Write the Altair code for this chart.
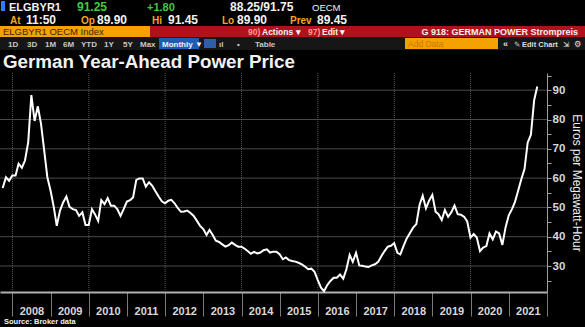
import altair as alt
import pandas as pd

# Monthly closes (month-end), Sep 2007 .. Sep 2021, EUR/MWh
values = [
    56.6, 60.3, 59.1,
    60.9, 60.9, 64.9, 63.5, 66.0, 72.3, 88.3, 79.5, 84.5, 78.6, 69.4, 60.3,
    55.7, 50.0, 43.7, 48.9, 51.7, 53.7, 50.2, 49.4, 49.1, 47.1, 48.3, 44.0,
    44.0, 49.4, 47.7, 45.4, 52.5, 51.1, 53.2, 50.6, 50.6, 49.4, 47.1, 49.4,
    52.0, 52.5, 53.4, 59.4, 59.9, 59.9, 57.1, 58.6, 57.4, 55.5, 53.7, 52.1,
    51.4, 52.3, 52.6, 51.4, 49.8, 48.5, 48.6, 48.9, 48.1, 47.1, 45.4, 43.7,
    42.6, 40.6, 42.3, 40.6, 38.6, 38.2, 37.4, 36.6, 37.1, 38.0, 37.2, 36.6,
    36.6, 35.9, 35.1, 34.2, 34.8, 34.3, 34.6, 35.4, 35.7, 34.6, 34.9, 34.9,
    34.0, 32.3, 32.9, 32.0, 31.7, 31.5, 31.1, 30.6, 29.8, 28.9, 29.1, 28.0,
    25.2, 22.6, 21.4, 23.5, 24.9, 26.0, 26.0, 27.1, 25.7, 28.9, 33.8, 31.4,
    34.5, 30.2, 30.1, 29.8, 29.7, 30.2, 30.6, 31.4, 33.4, 35.1, 36.6, 36.9,
    37.8, 34.5, 34.0, 36.9, 39.4, 41.3, 43.1, 44.3, 50.9, 54.0, 49.7, 52.3,
    54.3, 48.5, 47.7, 45.7, 49.1, 46.8, 48.3, 50.6, 47.7, 47.5, 46.8, 45.2,
    39.7, 40.9, 39.7, 35.1, 36.3, 36.8, 41.1, 39.1, 41.8, 41.1, 37.2, 43.1,
    47.3, 49.4, 51.8, 55.7, 59.6, 63.1, 72.1, 74.8, 86.6, 91.25,
]
month_ends = list(pd.date_range("2007-10-01", periods=len(values), freq="MS") - pd.Timedelta(days=1))
df = pd.DataFrame({"date": month_ends, "price": values})

y_grid = [30, 40, 50, 60, 70, 80, 90]
x_grid_years = [2008, 2010, 2012, 2014, 2016, 2018, 2020]
year_ticks = list(range(2008, 2023))
y_ticks = list(range(25, 96, 5))

TOP = 73
W, H = 547, 219
FONT = "Liberation Sans"
WHITE = "#f2f2f2"
GREEN = "#3dcc3d"
ORANGE = "#f5a623"

x_scale = alt.Scale(domain=[alt.DateTime(year=2007, month=9, date=4),
                            alt.DateTime(year=2022, month=1, date=1)], nice=False)
y_scale = alt.Scale(domain=[21.13, 95.87], nice=False, zero=False)

x_axis = alt.Axis(
    values=[alt.DateTime(year=y, month=1, date=1) for y in year_ticks],
    labelExpr="year(datum.value) < 2022 ? timeFormat(datum.value, '%Y') : ''",
    labelOffset=19, labelAlign="center", labelBaseline="top", labelPadding=-11,
    labelFlush=False, labelOverlap=False,
    labelFont=FONT, labelFontSize=11, labelFontWeight="bold", labelColor="#d8d8d8",
    tickSize=24, tickColor="#7a7a7a", tickWidth=1,
    domainColor="#b0b0b0", domainWidth=2, grid=False, title=None,
)
y_axis = alt.Axis(
    orient="right", values=y_ticks,
    labelExpr="datum.value % 10 === 0 ? datum.label : ''",
    tickSize=4, tickColor="#a0a0a0", domainColor="#a0a0a0", domainWidth=1,
    labelFont=FONT, labelFontSize=11.5, labelFontWeight="bold", labelColor="#d8d8d8",
    labelPadding=1, grid=False,
    title="Euros per Megawatt-Hour", titleFont=FONT, titleFontSize=12,
    titleFontWeight="normal", titleColor="#eeeeee", titlePadding=5,
)

hgrid = alt.Chart(pd.DataFrame({"v": y_grid})).mark_rule(color="#4a4a4a", strokeWidth=1).encode(
    y=alt.Y("v:Q", scale=y_scale, axis=y_axis))
vgrid = alt.Chart(pd.DataFrame({"d": [pd.Timestamp(f"{y}-01-01") for y in x_grid_years]})).mark_rule(
    color="#5a5a5a", strokeWidth=1, strokeDash=[1, 1]).encode(
    x=alt.X("d:T", scale=x_scale, axis=x_axis))
line = alt.Chart(df).mark_line(color="white", strokeWidth=2).encode(
    x=alt.X("date:T", scale=x_scale, axis=x_axis),
    y=alt.Y("price:Q", scale=y_scale, axis=y_axis),
)

one = pd.DataFrame({"k": [0]})


def label(s, x, y, color, size, weight="bold", align="left", font=FONT):
    return alt.Chart(one).mark_text(
        text=s, align=align, baseline="alphabetic", font=font, fontSize=size,
        fontWeight=weight, color=color,
    ).encode(x=alt.value(x), y=alt.value(y - TOP))


def box(x0, y0, x1, y1, color):
    return alt.Chart(one).mark_rect(color=color).encode(
        x=alt.value(x0), x2=alt.value(x1), y=alt.value(y0 - TOP), y2=alt.value(y1 - TOP))


deco = [
    # row 1
    box(1, 1, 5, 11, "#2a7fff"),
    label("ELGBYR1", 9, 11, WHITE, 11),
    label("91.25", 77, 11, GREEN, 12),
    label("+1.80", 147, 11, GREEN, 11),
    label("88.25/91.75", 230, 11, WHITE, 12),
    label("OECM", 312, 11, WHITE, 9.5, "normal"),
    # row 2
    label("At", 10, 24, ORANGE, 10), label("11:50", 26, 24, WHITE, 12),
    label("Op", 81, 24, ORANGE, 10), label("89.90", 97, 24, WHITE, 12),
    label("Hi", 152, 24, ORANGE, 10), label("91.45", 168, 24, WHITE, 12),
    label("Lo", 222, 24, ORANGE, 10), label("89.90", 237, 24, WHITE, 12),
    label("Prev", 290, 24, ORANGE, 10), label("89.45", 317, 24, WHITE, 12),
    # row 3
    box(0, 26, 150, 37, "#f5a100"),
    box(150, 26, 585, 37, "#b0121b"),
    label("ELGBYR1 OECM Index", 3, 35, "#3b2500", 9.5, "normal"),
    label("90)", 248, 35, "#ff9a90", 8.5), label("Actions ▾", 262, 35, WHITE, 8.5),
    label("97)", 308, 35, "#ff9a90", 8.5), label("Edit ▾", 322, 35, WHITE, 8.5),
    label("G 918: GERMAN POWER Strompreis", 578, 35, WHITE, 9, align="right"),
    # row 4
    box(0, 37, 585, 50, "#161616"),
    label("1D", 8, 47, "#c8c8c8", 8), label("3D", 27, 47, "#c8c8c8", 8),
    label("1M", 45, 47, "#c8c8c8", 8), label("6M", 63, 47, "#c8c8c8", 8),
    label("YTD", 81, 47, "#c8c8c8", 8), label("1Y", 104, 47, "#c8c8c8", 8),
    label("5Y", 123, 47, "#c8c8c8", 8), label("Max", 140, 47, "#c8c8c8", 8),
    box(159, 38, 199, 49, "#1f5bb5"),
    label("Monthly ▼", 162, 47, WHITE, 8),
    box(204, 39, 216, 48, "#2d5fa8"),
    label("ıl", 219, 47, "#c8c8c8", 8), label("•", 237, 47, "#c8c8c8", 8),
    label("Table", 255, 47, "#c8c8c8", 8),
    box(405, 38, 498, 49, "#f5a100"),
    label("Add Data", 408, 47, "#c87a00", 8.5, "normal"),
    label("«", 503, 47, "#dddddd", 9),
    label("✎", 514, 47, "#dddddd", 7.5, font="DejaVu Sans"),
    label("Edit Chart", 522, 47, "#dddddd", 7.5),
    label("⇲", 563, 47, "#dddddd", 7.5, font="DejaVu Sans"),
    label("⚙", 574, 47, "#dddddd", 8.5, font="DejaVu Sans"),
    # title and source
    label("German Year-Ahead Power Price", 3, 68, WHITE, 18.8),
    label("Source: Broker data", 4, 324, WHITE, 7.5),
]

chart = alt.layer(hgrid, vgrid, line, *deco).properties(
    width=W, height=H,
    padding={"left": 0, "top": TOP, "right": 585 - W, "bottom": 327 - TOP - H},
    autosize=alt.AutoSizeParams(type="none"),
    background="black",
).configure_view(stroke=None)

chart.save("out.html", embed_options={"renderer": "svg", "actions": False})
